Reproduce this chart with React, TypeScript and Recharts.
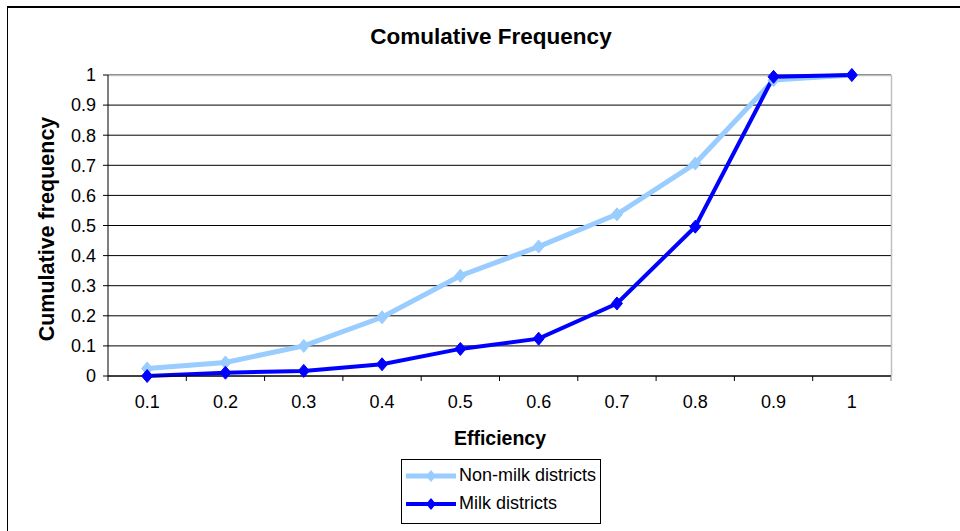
import React from 'react';
import { LineChart, Line, XAxis, YAxis, CartesianGrid, Legend, Customized } from 'recharts';

const categories = ['0.1', '0.2', '0.3', '0.4', '0.5', '0.6', '0.7', '0.8', '0.9', '1'];
const nonMilk = [0.025, 0.045, 0.1, 0.195, 0.333, 0.43, 0.537, 0.706, 0.983, 1.0];
const milk = [0, 0.011, 0.017, 0.039, 0.09, 0.124, 0.241, 0.496, 0.994, 1.0];
const yTicks = [0, 0.1, 0.2, 0.3, 0.4, 0.5, 0.6, 0.7, 0.8, 0.9, 1];

const seriesNames = { nonMilk: 'Non-milk districts', milk: 'Milk districts' };
const colors = { nonMilk: '#99CCFF', milk: '#0000FF' };

const data = categories.map((c, i) => ({ eff: c, nonMilk: nonMilk[i], milk: milk[i] }));

const FONT = '"Liberation Sans", Arial, sans-serif';

const W = 960;
const H = 531;
const PLOT_L = 108;
const PLOT_R = 891;
const PLOT_T = 75;
const PLOT_B = 376;
const Y_AXIS_W = 60;
const X_AXIS_H = 30;
const BAND_HALF = (PLOT_R - PLOT_L) / categories.length / 2;

const Diamond = (color: string, r: number) => (props: any) => {
  const { cx, cy, index } = props;
  if (cx == null || cy == null) return <g key={index} />;
  return (
    <polygon
      key={index}
      points={`${cx},${cy - r} ${cx + r * 0.85},${cy} ${cx},${cy + r} ${cx - r * 0.85},${cy}`}
      fill={color}
      stroke={color}
      strokeWidth={1}
    />
  );
};

const XTick = (props: any) => {
  const { x, y, payload, index } = props;
  const half = BAND_HALF;
  return (
    <g>
      <line x1={x - half} x2={x - half} y1={y} y2={y + 5} stroke="#000" strokeWidth={1} />
      {index === categories.length - 1 && (
        <line x1={x + half} x2={x + half} y1={y} y2={y + 5} stroke="#808080" strokeWidth={1} />
      )}
      <text x={x} y={y + 32} textAnchor="middle" fontFamily={FONT} fontSize={18} fill="#000">
        {payload.value}
      </text>
    </g>
  );
};

const Decorations = () => (
  <g>
    <line x1={7} x2={W} y1={7} y2={7} stroke="#000" strokeWidth={2} />
    <line x1={7.5} x2={7.5} y1={6} y2={H} stroke="#000" strokeWidth={1} />
    <line x1={PLOT_L} x2={PLOT_R + 0.5} y1={PLOT_T + 0.5} y2={PLOT_T + 0.5} stroke="#C0C0C0" strokeWidth={1.5} />
    <line x1={PLOT_R + 0.5} x2={PLOT_R + 0.5} y1={PLOT_T} y2={PLOT_B} stroke="#C0C0C0" strokeWidth={1.5} />
    <text x={491} y={44} textAnchor="middle" fontFamily={FONT} fontSize={22.5} fontWeight="bold" fill="#000">
      Comulative Frequency
    </text>
    <text
      x={0}
      y={0}
      transform={`translate(54, 229) rotate(-90)`}
      textAnchor="middle"
      fontFamily={FONT}
      fontSize={21.5}
      fontWeight="bold"
      fill="#000"
    >
      Cumulative frequency
    </text>
    <text x={500} y={445} textAnchor="middle" fontFamily={FONT} fontSize={19.5} fontWeight="bold" fill="#000">
      Efficiency
    </text>
  </g>
);

const LegendContent = () => {
  const rows: Array<{ key: 'nonMilk' | 'milk' }> = [{ key: 'nonMilk' }, { key: 'milk' }];
  return (
    <div
      style={{
        width: 198,
        height: 63,
        border: '1px solid #000',
        background: '#fff',
        boxSizing: 'content-box',
        fontFamily: FONT,
      }}
    >
      {rows.map((r, i) => (
        <div key={r.key} style={{ position: 'relative', height: 28, marginTop: i === 0 ? 2 : 0 }}>
          <svg width={56} height={28} style={{ position: 'absolute', left: 2, top: 0 }}>
            <line x1={2} x2={52} y1={14} y2={14} stroke={colors[r.key]} strokeWidth={r.key === 'milk' ? 4 : 5} />
            <polygon points="27,8 32,14 27,20 22,14" fill={colors[r.key]} />
          </svg>
          <span
            style={{
              position: 'absolute',
              left: 57,
              top: 3,
              fontSize: 18,
              lineHeight: '20px',
              color: '#000',
              whiteSpace: 'nowrap',
            }}
          >
            {seriesNames[r.key]}
          </span>
        </div>
      ))}
    </div>
  );
};

export default function App() {
  return (
    <div style={{ position: 'absolute', left: 0, top: 0, width: W, height: H, background: '#fff' }}>
      <LineChart
        width={W}
        height={H}
        data={data}
        margin={{ top: PLOT_T, left: PLOT_L - Y_AXIS_W, right: W - PLOT_R, bottom: H - PLOT_B - X_AXIS_H }}
      >
        <CartesianGrid horizontal={true} vertical={false} stroke="#000" strokeWidth={1} />
        <XAxis
          dataKey="eff"
          type="category"
          scale="band"
          height={X_AXIS_H}
          axisLine={{ stroke: '#000', strokeWidth: 1 }}
          tickLine={false}
          tickSize={0}
          tickMargin={0}
          interval={0}
          tick={<XTick />}
        />
        <YAxis
          width={Y_AXIS_W}
          domain={[0, 1]}
          ticks={yTicks}
          interval={0}
          axisLine={{ stroke: '#000', strokeWidth: 1 }}
          tickLine={{ stroke: '#000', strokeWidth: 1 }}
          tickSize={5}
          tickMargin={7}
          tick={{ fontFamily: FONT, fontSize: 18, fill: '#000' }}
        />
        <Line
          dataKey="nonMilk"
          name={seriesNames.nonMilk}
          stroke={colors.nonMilk}
          strokeWidth={5}
          dot={Diamond(colors.nonMilk, 6.5)}
          activeDot={false}
          isAnimationActive={false}
        />
        <Line
          dataKey="milk"
          name={seriesNames.milk}
          stroke={colors.milk}
          strokeWidth={4}
          dot={Diamond(colors.milk, 6.5)}
          activeDot={false}
          isAnimationActive={false}
        />
        <Legend
          layout="vertical"
          align="center"
          verticalAlign="middle"
          content={<LegendContent />}
          wrapperStyle={{ left: 401, top: 459, width: 200, height: 65 }}
        />
        <Customized component={<Decorations />} />
      </LineChart>
    </div>
  );
}
